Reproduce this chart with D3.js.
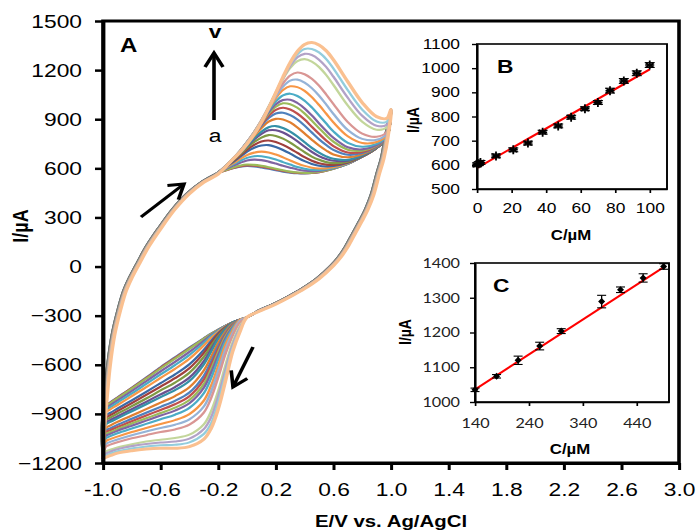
<!DOCTYPE html>
<html>
<head>
<meta charset="utf-8">
<script src="https://cdn.jsdelivr.net/npm/d3@7"></script>
<style>
  body { margin: 0; background: #fff; }
  svg { display: block; }
  text { font-family: "Liberation Sans", Arial, sans-serif; }
</style>
</head>
<body>
<svg id="chart" width="696" height="530"></svg>
<script>
// ---------------- data ----------------
// Cyclic voltammograms (E in V vs Ag/AgCl, I in µA), one curve per concentration.
// Common part of the forward scan, starting at the -1.0 V switching point.
const forwardShared = [[-1.0,-1170],[-0.99,-1000],[-0.97,-780],[-0.95,-600],[-0.92,-420],[-0.88,-270],
  [-0.84,-150],[-0.8,-70],[-0.74,30],[-0.68,125],[-0.6,230],[-0.5,350],[-0.4,445],[-0.3,515],[-0.2,565]];
// Common part of the reverse scan, from the +1.0 V switching point.
const reverseShared = [[1.0,960],[0.98,800],[0.95,660],[0.92,570],[0.88,440],[0.84,350],[0.8,280],
  [0.75,200],[0.7,120],[0.65,55],[0.6,5],[0.5,-75],[0.4,-135],[0.3,-185],[0.2,-230],[0.1,-268]];
// Small potential offset of each curve along the common branches (V)
const branchShift = [-0.020,-0.019,-0.019,-0.018,-0.018,-0.017,-0.017,-0.016,-0.016,-0.015,-0.015,-0.014,
  -0.014,-0.013,-0.013,-0.012,-0.012,-0.011,-0.0095,-0.008,-0.006,-0.0045,-0.0025,0];

// Anodic wave: potentials and currents of each curve (a ... v)
const anodicE = [-0.1,-0.05,0,0.05,0.1,0.15,0.2,0.25,0.3,0.35,0.4,0.45,0.5,0.55,0.6,0.7,0.8,0.9,0.97];
const anodicI = [
  [600,610,615,612,605,597,588,580,574,570,569,571,577,586,597,627,671,725,785],
  [601,612,618,616,610,602,593,584,577,572,570,572,577,586,597,627,671,725,785],
  [604,616,623,621,615,607,597,588,580,575,572,573,579,587,598,627,671,725,785],
  [615,633,648,653,650,641,629,616,604,593,586,583,584,591,600,628,671,725,785],
  [622,644,664,674,674,666,654,638,623,608,598,591,590,594,602,628,671,725,785],
  [628,656,681,696,702,697,684,667,648,630,615,604,599,600,606,631,671,725,785],
  [636,669,702,726,740,742,730,712,690,666,644,627,616,612,614,634,672,725,785],
  [642,677,714,743,764,770,761,743,720,694,668,646,631,623,621,637,673,725,785],
  [646,684,726,761,788,803,798,781,757,728,699,672,652,638,632,641,675,726,785],
  [649,690,735,776,810,832,833,819,795,765,732,701,675,657,646,647,677,727,785],
  [651,694,739,785,824,851,858,846,824,794,759,725,696,673,658,652,680,727,785],
  [653,697,748,798,846,885,902,899,880,850,813,775,739,709,685,668,686,730,787],
  [655,701,753,807,861,907,935,940,925,898,861,819,778,743,713,683,693,732,788],
  [656,702,756,813,870,921,957,970,959,934,898,854,811,770,736,697,700,735,789],
  [657,704,759,817,877,934,976,997,992,970,935,891,846,802,763,714,708,739,791],
  [657,704,760,819,882,943,991,1017,1019,999,966,923,875,829,787,729,716,742,793],
  [657,704,760,821,887,954,1009,1046,1056,1042,1013,972,924,874,826,756,732,749,797],
  [657,703,759,822,891,963,1029,1078,1101,1096,1073,1035,987,934,881,796,755,761,803],
  [656,703,759,822,893,969,1040,1100,1136,1142,1124,1090,1044,990,933,834,780,774,811],
  [656,703,758,821,894,974,1052,1119,1167,1185,1175,1147,1105,1051,993,882,812,793,822],
  [656,701,755,818,891,976,1063,1145,1213,1255,1267,1252,1219,1170,1110,984,885,836,850],
  [654,698,752,814,887,973,1063,1150,1225,1278,1299,1292,1264,1219,1160,1031,921,860,866],
  [654,698,751,812,885,971,1061,1155,1238,1297,1329,1329,1308,1267,1210,1077,959,886,884],
  [653,696,748,808,881,967,1061,1158,1246,1315,1357,1368,1353,1318,1263,1129,1002,916,905]
];

// Cathodic wave on the reverse scan
const cathodicE = [0,-0.05,-0.1,-0.15,-0.2,-0.25,-0.3,-0.4,-0.5,-0.6,-0.7,-0.8,-0.9,-0.95,-0.98];
const cathodicI = [
  [-310,-325,-342,-362,-385,-410,-438,-495,-555,-615,-678,-740,-800,-830,-850],
  [-310,-325,-342,-362,-386,-412,-441,-499,-559,-618,-681,-742,-802,-832,-852],
  [-310,-325,-342,-362,-386,-412,-442,-503,-563,-623,-685,-746,-805,-835,-855],
  [-310,-325,-342,-362,-389,-419,-454,-521,-582,-640,-701,-760,-818,-847,-866],
  [-310,-325,-342,-363,-392,-426,-466,-540,-602,-659,-717,-775,-831,-859,-878],
  [-310,-325,-342,-365,-398,-436,-482,-563,-625,-680,-737,-792,-846,-873,-891],
  [-310,-325,-342,-369,-407,-455,-509,-597,-659,-712,-765,-817,-868,-894,-911],
  [-310,-325,-342,-372,-414,-468,-528,-621,-682,-733,-784,-834,-883,-908,-925],
  [-310,-325,-342,-376,-424,-486,-552,-649,-709,-757,-806,-853,-899,-923,-940],
  [-310,-325,-342,-382,-435,-506,-578,-678,-736,-781,-826,-871,-916,-938,-955],
  [-310,-325,-342,-386,-443,-521,-598,-699,-755,-798,-841,-884,-927,-949,-965],
  [-310,-325,-348,-399,-466,-553,-635,-737,-791,-831,-871,-910,-949,-971,-986],
  [-310,-325,-354,-411,-488,-582,-668,-769,-820,-857,-893,-930,-967,-988,-1001],
  [-310,-325,-358,-419,-505,-604,-692,-792,-841,-876,-910,-945,-981,-1000,-1013],
  [-310,-325,-364,-428,-524,-628,-718,-815,-862,-895,-927,-959,-993,-1012,-1025],
  [-310,-325,-370,-441,-542,-650,-740,-835,-880,-910,-941,-972,-1004,-1022,-1035],
  [-310,-325,-378,-456,-568,-683,-774,-863,-905,-933,-961,-989,-1018,-1036,-1050],
  [-310,-325,-390,-478,-606,-729,-819,-901,-938,-962,-986,-1011,-1039,-1054,-1068],
  [-310,-332,-405,-505,-640,-765,-855,-933,-966,-986,-1007,-1030,-1056,-1071,-1085],
  [-310,-343,-423,-536,-678,-805,-892,-965,-995,-1011,-1030,-1049,-1073,-1088,-1100],
  [-310,-366,-463,-604,-760,-885,-964,-1027,-1047,-1058,-1069,-1085,-1105,-1119,-1131],
  [-310,-376,-480,-633,-794,-922,-993,-1051,-1069,-1075,-1084,-1097,-1116,-1131,-1143],
  [-310,-387,-498,-663,-830,-960,-1023,-1074,-1089,-1092,-1100,-1111,-1129,-1143,-1156],
  [-310,-400,-520,-700,-870,-990,-1055,-1100,-1110,-1110,-1115,-1125,-1140,-1155,-1165]
];

const cvColors = [
  "#4F81BD","#C0504D","#9BBB59","#8064A2","#4BACC6","#F79646",
  "#3A6AA6","#A0403D","#7F9A44","#6A5090","#3591A8","#E07F30",
  "#4F81BD","#C0504D","#9BBB59","#8064A2","#4BACC6","#F79646",
  "#95B3D7","#D99694","#C3D69B","#B3A2C7","#93CDDD","#FAC090"
];

const xTicksMain = [-1.0,-0.6,-0.2,0.2,0.6,1.0,1.4,1.8,2.2,2.6,3.0];
const yTicksMain = [-1200,-900,-600,-300,0,300,600,900,1200,1500];

// Inset B: low concentration range
const concB = [0, 1, 2, 11, 21, 29.5, 38, 47, 54.5, 62.5, 70, 77, 85, 92.5, 100];
const currB = [600, 605, 610, 637, 662, 690, 735, 761, 797, 832, 858, 907, 947, 979, 1013];
const errB  = [8, 8, 8, 8, 8, 8, 8, 8, 8, 8, 8, 10, 10, 10, 10];
const fitB  = [[0, 587], [100, 995]];
const xTicksB = [0, 20, 40, 60, 80, 100];
const yTicksB = [500, 600, 700, 800, 900, 1000, 1100];

// Inset C: high concentration range
const concC = [140, 180, 220, 260, 300, 375, 410, 452, 490];
const currC = [1035, 1074, 1120, 1161, 1204, 1289, 1323, 1357, 1390];
const errC  = [5, 5, 12, 11, 7, 18, 8, 12, 8];
const fitC  = [[140, 1036], [490, 1388]];
const xTicksC = [140, 240, 340, 440];
const yTicksC = [1000, 1100, 1200, 1300, 1400];

// ---------------- drawing ----------------
// The whole figure is drawn in a horizontally stretched frame.
const SX = 1.2;
const X = v => v / SX;

const svg = d3.select("#chart");
const root = svg.append("g").attr("transform", `scale(${SX},1)`);

// ---- main panel A ----
const xMain = d3.scaleLinear().domain([-1, 3]).range([X(103), X(679)]);
const yMain = d3.scaleLinear().domain([-1200, 1500]).range([463, 21]);

const cvLine = d3.line()
  .x(d => xMain(d[0])).y(d => yMain(d[1]))
  .curve(d3.curveCatmullRom.alpha(0.5));

const curveLayer = root.append("g");
anodicI.forEach((row, i) => {
  const s = branchShift[i];
  const fwd = forwardShared.map((p, k) => k === 0 ? p : [p[0] + s, p[1]]);
  const rev = reverseShared.map((p, k) => k === 0 ? p : [p[0] + s, p[1]]);
  const pts = [
    ...fwd,
    ...anodicE.map((e, j) => [e, row[j]]),
    ...rev,
    ...cathodicE.map((e, j) => [e, cathodicI[i][j]]),
    fwd[0]
  ];
  curveLayer.append("path")
    .attr("d", cvLine(pts))
    .attr("fill", "none")
    .attr("stroke", cvColors[i])
    .attr("stroke-width", i === anodicI.length - 1 ? 3 : 2.1)
    .attr("stroke-linejoin", "round");
});

function styleAxis(g, opts) {
  g.select(".domain").attr("stroke", "#000").attr("stroke-width", opts.domainW);
  g.selectAll(".tick line").attr("stroke", "#000").attr("stroke-width", opts.tickW);
  g.selectAll(".tick text")
    .attr("fill", opts.color || "#000")
    .style("font-family", opts.family)
    .style("font-size", opts.size + "px");
}

const gxMain = root.append("g").attr("transform", "translate(0,463)")
  .call(d3.axisBottom(xMain).tickValues(xTicksMain).tickFormat(d => d.toFixed(1))
    .tickSize(7).tickSizeOuter(0).tickPadding(13));
styleAxis(gxMain, { domainW: 3, tickW: 2.5, family: '"Liberation Sans", Arial, sans-serif', size: 19 });

const gyMain = root.append("g").attr("transform", `translate(${X(103)},0)`)
  .call(d3.axisLeft(yMain).tickValues(yTicksMain).tickFormat(d3.format("d"))
    .tickSize(X(8)).tickSizeOuter(0).tickPadding(X(13)));
styleAxis(gyMain, { domainW: 3, tickW: 2.5, family: '"Liberation Sans", Arial, sans-serif', size: 19 });

root.append("rect")
  .attr("x", xMain(-1)).attr("y", yMain(1500))
  .attr("width", xMain(3) - xMain(-1)).attr("height", yMain(-1200) - yMain(1500))
  .attr("fill", "none").attr("stroke", "#000").attr("stroke-width", 3);

// axis titles
root.append("text")
  .attr("transform", `translate(${X(28)},226) rotate(-90)`)
  .attr("text-anchor", "middle")
  .style("font-size", "18px").style("font-weight", "bold")
  .text("I/µA");
root.append("text")
  .attr("x", X(391)).attr("y", 527)
  .attr("text-anchor", "middle")
  .style("font-size", "17px").style("font-weight", "bold")
  .text("E/V vs. Ag/AgCl");

// panel letter and annotations
root.append("text").attr("x", X(120)).attr("y", 52)
  .style("font-size", "20px").style("font-weight", "bold").text("A");
root.append("text").attr("x", X(215)).attr("y", 38).attr("text-anchor", "middle")
  .style("font-size", "19px").style("font-weight", "bold").text("v");
root.append("text").attr("x", X(215)).attr("y", 142).attr("text-anchor", "middle")
  .style("font-size", "19px").text("a");

function arrow(x1, y1, x2, y2) {
  const dx = x2 - x1, dy = y2 - y1;
  const len = Math.hypot(dx, dy), ux = dx / len, uy = dy / len;
  const hl = 14, hw = 9;
  const bx = x2 - ux * hl, by = y2 - uy * hl;
  const px = -uy, py = ux;
  const g = root.append("g").attr("fill", "none").attr("stroke", "#000")
    .attr("stroke-width", 3).attr("stroke-linecap", "butt");
  g.append("line").attr("x1", X(x1)).attr("y1", y1).attr("x2", X(x2)).attr("y2", y2);
  g.append("path").attr("d",
    `M${X(bx + px * hw)},${by + py * hw} L${X(x2)},${y2} L${X(bx - px * hw)},${by - py * hw}`)
    .attr("stroke-linejoin", "miter");
}
arrow(214, 120, 214, 53);
arrow(141, 217, 184, 184);
arrow(253, 347, 233, 387);

// ---- inset panels ----
function inset(cfg) {
  const x = d3.scaleLinear().domain(cfg.xDomain).range([X(cfg.left), X(cfg.right)]);
  const y = d3.scaleLinear().domain(cfg.yDomain).range([cfg.bottom, cfg.top]);
  const g = root.append("g");

  g.append("rect").attr("x", X(cfg.left)).attr("y", cfg.top)
    .attr("width", X(cfg.right - cfg.left)).attr("height", cfg.bottom - cfg.top)
    .attr("fill", "#fff").attr("stroke", "none");

  const gx = g.append("g").attr("transform", `translate(0,${cfg.bottom})`)
    .call(d3.axisBottom(x).tickValues(cfg.xTicks).tickFormat(d3.format("d"))
      .tickSize(4).tickSizeOuter(0).tickPadding(cfg.xPad));
  styleAxis(gx, { domainW: 1.6, tickW: 1.4, family: cfg.family, size: cfg.fontSize, color: cfg.color });
  const gy = g.append("g").attr("transform", `translate(${X(cfg.left)},0)`)
    .call(d3.axisLeft(y).tickValues(cfg.yTicks).tickFormat(d3.format("d"))
      .tickSize(X(5)).tickSizeOuter(0).tickPadding(X(cfg.yPad)));
  styleAxis(gy, { domainW: 1.6, tickW: 1.4, family: cfg.family, size: cfg.fontSize, color: cfg.color });

  g.append("rect").attr("x", X(cfg.left)).attr("y", cfg.top)
    .attr("width", X(cfg.right - cfg.left)).attr("height", cfg.bottom - cfg.top)
    .attr("fill", "none").attr("stroke", "#000").attr("stroke-width", 1.6);

  // linear fit
  g.append("line")
    .attr("x1", x(cfg.fit[0][0])).attr("y1", y(cfg.fit[0][1]))
    .attr("x2", x(cfg.fit[1][0])).attr("y2", y(cfg.fit[1][1]))
    .attr("stroke", "#FF0000").attr("stroke-width", 2);

  // error bars and markers
  const pts = g.append("g").attr("stroke", "#000").attr("stroke-width", 1.1);
  cfg.conc.forEach((c, i) => {
    const cx = x(c), cy = y(cfg.curr[i]), v = cfg.curr[i], e = cfg.err[i];
    const cap = X(cfg.cap);
    pts.append("line").attr("x1", cx).attr("x2", cx).attr("y1", y(v - e)).attr("y2", y(v + e));
    pts.append("line").attr("x1", cx - cap).attr("x2", cx + cap).attr("y1", y(v - e)).attr("y2", y(v - e));
    pts.append("line").attr("x1", cx - cap).attr("x2", cx + cap).attr("y1", y(v + e)).attr("y2", y(v + e));
    if (cfg.marker === "star") {
      const r = 4.5;
      pts.append("path")
        .attr("d", `M${cx},${cy - r}V${cy + r}` +
          `M${cx - X(r * 0.87)},${cy - r * 0.5}L${cx + X(r * 0.87)},${cy + r * 0.5}` +
          `M${cx - X(r * 0.87)},${cy + r * 0.5}L${cx + X(r * 0.87)},${cy - r * 0.5}` +
          `M${cx - X(r)},${cy}H${cx + X(r)}`)
        .attr("stroke-width", 1.5);
    } else {
      pts.append("path")
        .attr("d", `M${cx},${cy - 3.5} L${cx + X(3.5)},${cy} L${cx},${cy + 3.5} L${cx - X(3.5)},${cy} Z`)
        .attr("fill", "#000").attr("stroke", "none");
    }
  });

  g.append("text").attr("x", X(cfg.letterX)).attr("y", cfg.letterY)
    .style("font-size", "19px").style("font-weight", "bold").text(cfg.letter);
  g.append("text")
    .attr("transform", `translate(${X(cfg.yLabelX)},${cfg.yLabelY}) rotate(-90)`)
    .attr("text-anchor", "middle")
    .style("font-size", "14px").style("font-weight", "bold").text("I/µA");
  g.append("text").attr("x", X(cfg.xLabelX)).attr("y", cfg.xLabelY)
    .attr("text-anchor", "middle")
    .style("font-size", "14px").style("font-weight", "bold").text("C/µM");
}

inset({
  xDomain: [0, 110], yDomain: [500, 1100],
  left: 477, right: 667, top: 44, bottom: 189,
  xTicks: xTicksB, yTicks: yTicksB, xPad: 10, yPad: 12,
  family: '"Liberation Sans", Arial, sans-serif', fontSize: 14.5, color: "#000",
  fit: fitB, conc: concB, curr: currB, err: errB, cap: 5, marker: "star",
  letter: "B", letterX: 497, letterY: 73,
  yLabelX: 419, yLabelY: 120, xLabelX: 571, xLabelY: 240
});

inset({
  xDomain: [140, 500], yDomain: [1000, 1400],
  left: 475, right: 669, top: 263, bottom: 402,
  xTicks: xTicksC, yTicks: yTicksC, xPad: 12, yPad: 10,
  family: 'Lato, "Noto Sans", sans-serif', fontSize: 13.5, color: "#222",
  fit: fitC, conc: concC, curr: currC, err: errC, cap: 4.5, marker: "diamond",
  letter: "C", letterX: 493, letterY: 292,
  yLabelX: 411, yLabelY: 332, xLabelX: 570, xLabelY: 454
});
</script>
</body>
</html>
